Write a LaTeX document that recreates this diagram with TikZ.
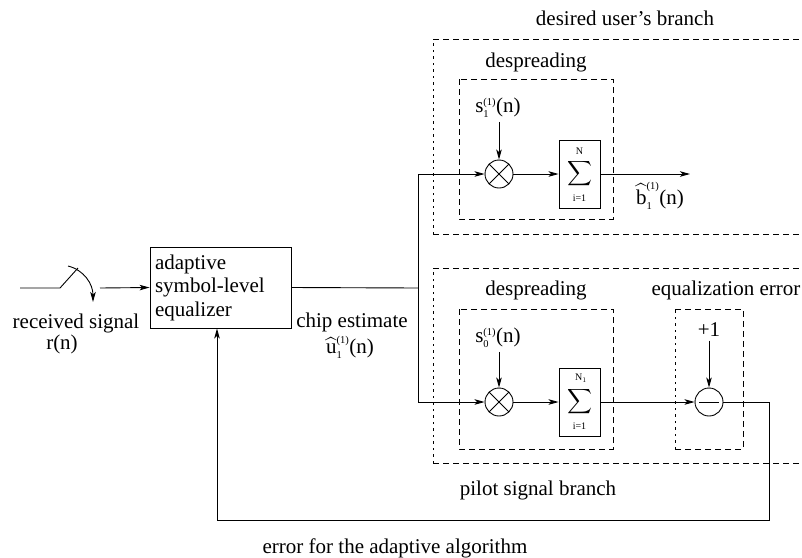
\documentclass[tikz,border=0pt]{standalone}
\usepackage{amsmath}
\usepackage{fontspec}
\setmainfont{Liberation Serif}
\usetikzlibrary{arrows.meta}
\begin{document}
\begin{tikzpicture}[x=1pt,y=-1pt,line width=0.9pt,
  every node/.style={font=\fontsize{21}{23.5}\selectfont},
  arr/.style={-{Stealth[length=10pt,width=5.5pt,inset=2.5pt]}},
  grp/.style={dash pattern=on 6pt off 4pt},
  grpfine/.style={dash pattern=on 2.5pt off 4pt},
  sumbox/.style={draw,minimum width=41pt,minimum height=68pt,inner sep=0pt},
  sigma/.style={font=\fontsize{19}{19}\selectfont,inner sep=0pt},
  lim/.style={font=\fontsize{10}{10}\selectfont,inner sep=0pt},
  mixer/.style={draw,circle,minimum size=28pt,inner sep=0pt,
    path picture={\draw ([shift={(-9.9pt,-9.9pt)}]path picture bounding box.center)
                     -- ([shift={(9.9pt,9.9pt)}]path picture bounding box.center)
                     ([shift={(-9.9pt,9.9pt)}]path picture bounding box.center)
                     -- ([shift={(9.9pt,-9.9pt)}]path picture bounding box.center);}},
  subtr/.style={draw,circle,minimum size=28pt,inner sep=0pt,
    path picture={\draw ([xshift=-10pt]path picture bounding box.center)
                     -- ([xshift=10pt]path picture bounding box.center);}}]
\useasboundingbox (0,0) rectangle (802,557);

% dashed group frames
\draw[grpfine] (433,234) -- (433,39);
\draw[grp] (433,39) -- (802,39) (433,234) -- (802,234);
\draw[grp] (459,79) rectangle (613,219);
\draw[grpfine] (433,463) -- (433,268);
\draw[grp] (433,268) -- (802,268) (433,463) -- (802,463);
\draw[grp] (459,309) rectangle (613,449);
\draw[grpfine] (675,449) -- (675,309);
\draw[grp] (675,309) -- (743,309) -- (743,449) -- (675,449);

% group titles
\node (tdes) at (625,18) {desired user's branch};
\node (tdsp1) at (536,62) {despreading};
\node (tdsp2) at (536,290) {despreading};
\node (terr) at (726,290) {equalization error};
\node (tpil) at (538,490) {pilot signal branch};
\node (talg) at (395,548) {error for the adaptive algorithm};

% sampling switch at the input
\coordinate (in0) at (20,288);
\coordinate (sw0) at (60,288);
\coordinate (sw1) at (78,268);
\coordinate (ca) at (68,266);
\coordinate (cb) at (93,302);
\coordinate (sin) at (100,288);
\draw (in0) -- (sw0) -- (sw1);
\draw[arr] (ca) .. controls (84,270) and (93,284) .. (cb);
\node (rs) at (76,323) {received signal};
\node (rn) at (62,344) {r(n)};

% equalizer
\node[draw,text width=131pt,align=left,inner sep=5pt,minimum height=81pt]
  (eq) at (220.5,287.5) {adaptive\\symbol-level\\equalizer};
\draw[arr] (sin) -- (eq.west);

\coordinate (split) at (418,288);
\coordinate (up) at (418,174);
\coordinate (dn) at (418,402);
\draw (eq.east) -- (split);
\draw (up) -- (dn);
\node (chip) at (352,322) {chip estimate};
\node (uhat) at (350,347) {$\widehat{\text{u}}^{\scriptscriptstyle\text{(1)}}_{\scriptscriptstyle\text{1}}\text{(n)}$};

% desired user's branch
\node[mixer] (m1) at (499,174) {};
\node[sumbox] (s1) at (579.5,174) {};
\node[sigma] (sg1) at (579.5,174) {$\displaystyle\sum$};
\node[lim] (n1) at (579.5,151) {N};
\node[lim] (i1) at (579.5,198) {i=1};
\node (sl1) at (498,108) {$\text{s}^{\scriptscriptstyle\text{(1)}}_{\scriptscriptstyle\text{1}}\text{(n)}$};
\coordinate (bout) at (690,174);
\draw[arr] (up) -- (m1);
\draw[arr] (m1 |- sl1.south) -- (m1);
\draw[arr] (m1) -- (s1);
\draw[arr] (s1) -- (bout);
\node (bhat) at (660,196) {$\widehat{\text{b}}^{\scriptscriptstyle\text{(1)}}_{\scriptscriptstyle\text{1}}\text{(n)}$};

% pilot signal branch
\node[mixer] (m2) at (499,402) {};
\node[sumbox] (s2) at (579.5,402) {};
\node[sigma] (sg2) at (579.5,402) {$\displaystyle\sum$};
\node[lim] (n2) at (581,378) {N$_1$};
\node[lim] (i2) at (579.5,426) {i=1};
\node (sl0) at (498,338) {$\text{s}^{\scriptscriptstyle\text{(1)}}_{\scriptscriptstyle\text{0}}\text{(n)}$};
\node[subtr] (sub) at (709,402) {};
\node (one) at (709,330) {+1};
\draw[arr] (dn) -- (m2);
\draw[arr] (m2 |- sl0.south) -- (m2);
\draw[arr] (m2) -- (s2);
\draw[arr] (s2) -- (sub);
\draw[arr] (one.south) -- (sub);

% error fed back to the equalizer
\coordinate (fb1) at (769,402);
\coordinate (fb2) at (769,520);
\coordinate (fb3) at (217,520);
\draw[arr] (sub.east) -- (fb1) -- (fb2) -- (fb3) -- (fb3 |- eq.south);
\end{tikzpicture}
\end{document}
